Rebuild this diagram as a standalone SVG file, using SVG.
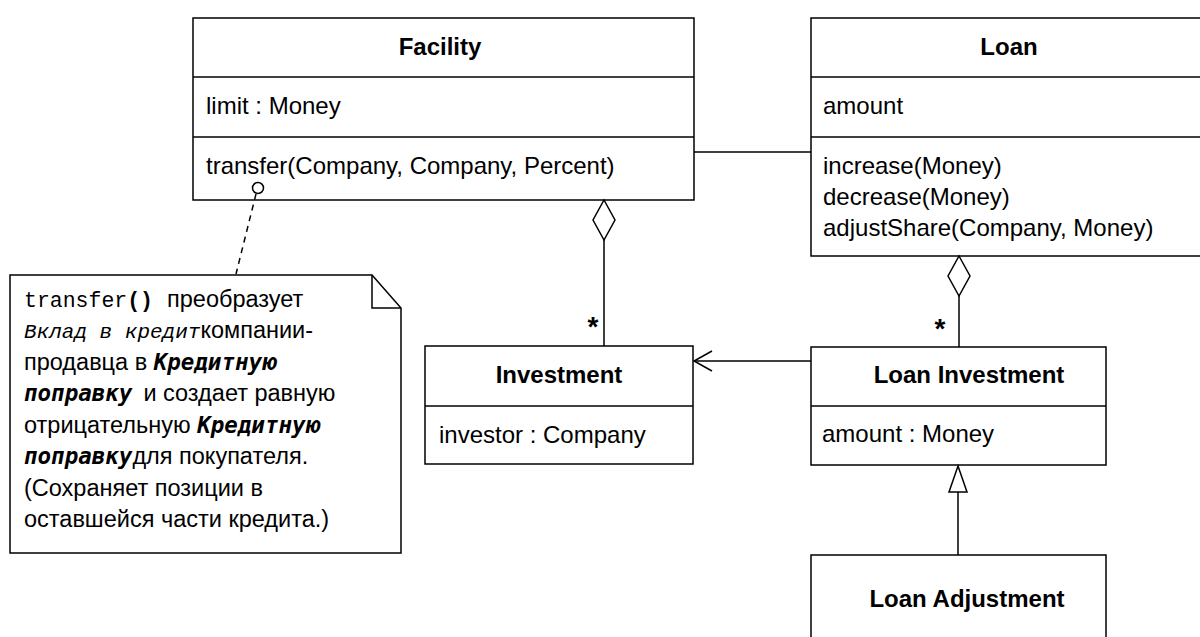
<svg xmlns="http://www.w3.org/2000/svg" width="1200" height="637" viewBox="0 0 1200 637">
<style>
.box{fill:#fff;stroke:#000;stroke-width:1.5}
.ln{stroke:#000;stroke-width:1.5;fill:none}
.t{font-family:"Liberation Sans",Arial,sans-serif;font-size:24px;fill:#000}
.b{font-family:"Liberation Sans",Arial,sans-serif;font-size:24px;font-weight:bold;fill:#000;text-anchor:middle}
.n{font-family:"Liberation Sans",Arial,sans-serif;font-size:23.5px;fill:#000}
.m{font-family:"Liberation Mono","Courier New",monospace;font-size:21.5px}
.mi{font-family:"Liberation Mono","Courier New",monospace;font-size:21px;font-style:italic}
.mb{font-family:"DejaVu Sans Mono","Liberation Mono",monospace;font-size:22.5px;font-style:italic;font-weight:bold}
.star{font-family:"Liberation Sans",Arial,sans-serif;font-size:28px;font-weight:bold;text-anchor:middle}
</style>
<rect width="1200" height="637" fill="#fff"/>
<g id="facility">
<rect class="box" x="193" y="18" width="501" height="182"/>
<line class="ln" x1="193" y1="77" x2="694" y2="77"/>
<line class="ln" x1="193" y1="137" x2="694" y2="137"/>
<text class="b" x="440" y="55">Facility</text>
<text class="t" x="206" y="114">limit : Money</text>
<text class="t" x="206" y="174">transfer(Company, Company, Percent)</text>
</g>
<g id="loan">
<rect class="box" x="811" y="18" width="396" height="238"/>
<line class="ln" x1="811" y1="77" x2="1207" y2="77"/>
<line class="ln" x1="811" y1="137" x2="1207" y2="137"/>
<text class="b" x="1009" y="55">Loan</text>
<text class="t" x="823" y="114">amount</text>
<text class="t" x="823" y="174">increase(Money)</text>
<text class="t" x="823" y="205">decrease(Money)</text>
<text class="t" x="823" y="236">adjustShare(Company, Money)</text>
</g>
<g id="investment">
<rect class="box" x="425" y="346" width="268" height="118"/>
<line class="ln" x1="425" y1="406" x2="693" y2="406"/>
<text class="b" x="559" y="383">Investment</text>
<text class="t" x="439" y="443">investor : Company</text>
</g>
<g id="loan-investment">
<rect class="box" x="811" y="347" width="295" height="118"/>
<line class="ln" x1="811" y1="406" x2="1106" y2="406"/>
<text class="b" x="969" y="383">Loan Investment</text>
<text class="t" x="822" y="442">amount : Money</text>
</g>
<g id="loan-adjustment">
<rect class="box" x="811" y="555" width="295" height="100"/>
<text class="b" x="967" y="607">Loan Adjustment</text>
</g>
<g id="note">
<path class="box" d="M10,275 H372 L401,308 V553 H10 Z"/>
<polyline class="ln" points="372,275 372,308 401,308" stroke-width="1"/>
<text class="n" x="24" y="307"><tspan class="m">transfer</tspan><tspan class="m" font-weight="bold">()</tspan><tspan dx="14">преобразует</tspan></text>
<text class="n" x="24" y="338"><tspan class="mi">Вклад в кредит</tspan>компании-</text>
<text class="n" x="24" y="370">продавца в <tspan class="mb">Кредитную</tspan></text>
<text class="n" x="24" y="401"><tspan class="mb">поправку</tspan><tspan dx="11">и создает равную</tspan></text>
<text class="n" x="24" y="433">отрицательную <tspan class="mb">Кредитную</tspan></text>
<text class="n" x="24" y="464"><tspan class="mb">поправку</tspan>для покупателя.</text>
<text class="n" x="24" y="496">(Сохраняет позиции в</text>
<text class="n" x="24" y="527">оставшейся части кредита.)</text>
</g>
<g id="connectors">
<line class="ln" x1="694" y1="152" x2="811" y2="152"/>
<line class="ln" x1="604" y1="240" x2="604" y2="346"/>
<polygon class="box" points="604,200 615,220 604,240 593,220"/>
<text class="star" x="593" y="336">*</text>
<line class="ln" x1="959" y1="296" x2="959" y2="347"/>
<polygon class="box" points="959,256 970,276 959,296 948,276"/>
<text class="star" x="940" y="338">*</text>
<line class="ln" x1="811" y1="361" x2="694" y2="361"/>
<polyline class="ln" points="712,351 694,361 712,371"/>
<line class="ln" x1="958" y1="492" x2="958" y2="555"/>
<polygon class="box" points="958,466 967,492 949,492"/>
<line class="ln" x1="256" y1="194" x2="236" y2="274" stroke-dasharray="6,5"/>
<circle class="box" cx="258" cy="188" r="5.5"/>
</g>
</svg>
